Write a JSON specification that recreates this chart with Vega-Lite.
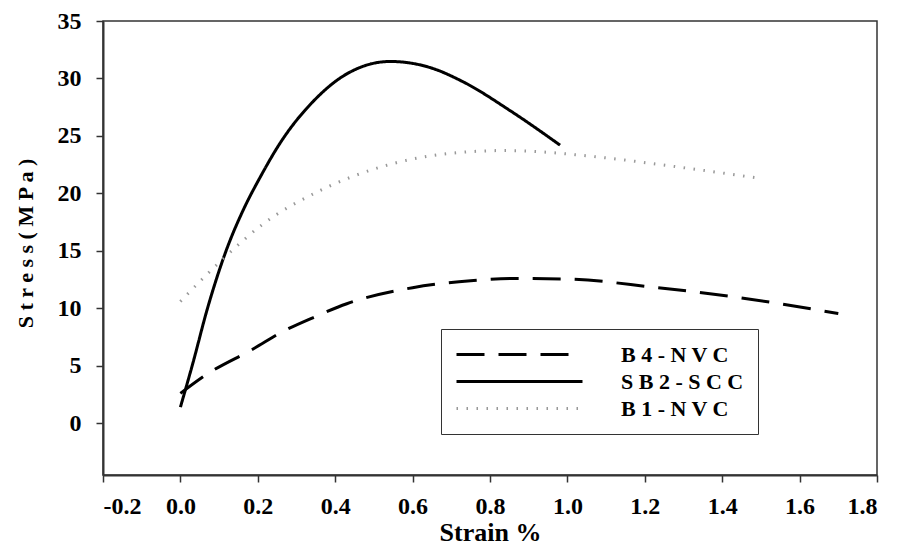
{
  "$schema": "https://vega.github.io/schema/vega-lite/v6.json",
  "width": 774,
  "height": 454,
  "autosize": "none",
  "padding": {"left": 103, "top": 21, "right": 20, "bottom": 81},
  "background": "white",
  "config": {
    "font": "Liberation Serif",
    "view": {"stroke": "#333", "strokeWidth": 1.5},
    "axis": {
      "grid": false,
      "domainColor": "#333",
      "domainWidth": 2,
      "tickColor": "#333",
      "tickWidth": 1.5,
      "tickSize": 7,
      "labelFont": "Liberation Serif",
      "labelFontWeight": "bold",
      "labelFontSize": 24,
      "labelColor": "black",
      "titleFont": "Liberation Serif",
      "titleFontWeight": "bold",
      "titleColor": "black"
    }
  },
  "data": {
    "values": [
      {"series": "B 4 - N V C", "strain": 0.0, "stress": 2.6},
      {"series": "B 4 - N V C", "strain": 0.07, "stress": 4.3},
      {"series": "B 4 - N V C", "strain": 0.19, "stress": 6.5},
      {"series": "B 4 - N V C", "strain": 0.26, "stress": 7.9},
      {"series": "B 4 - N V C", "strain": 0.35, "stress": 9.3},
      {"series": "B 4 - N V C", "strain": 0.43, "stress": 10.4},
      {"series": "B 4 - N V C", "strain": 0.6, "stress": 11.8},
      {"series": "B 4 - N V C", "strain": 0.75, "stress": 12.4},
      {"series": "B 4 - N V C", "strain": 0.86, "stress": 12.6},
      {"series": "B 4 - N V C", "strain": 1.0, "stress": 12.55},
      {"series": "B 4 - N V C", "strain": 1.22, "stress": 11.85},
      {"series": "B 4 - N V C", "strain": 1.44, "stress": 10.95},
      {"series": "B 4 - N V C", "strain": 1.7, "stress": 9.55},
      {"series": "S B 2 - S C C", "strain": 0.0, "stress": 1.4},
      {"series": "S B 2 - S C C", "strain": 0.032, "stress": 5.2},
      {"series": "S B 2 - S C C", "strain": 0.07, "stress": 10.0},
      {"series": "S B 2 - S C C", "strain": 0.118, "stress": 15.0},
      {"series": "S B 2 - S C C", "strain": 0.163, "stress": 18.6},
      {"series": "S B 2 - S C C", "strain": 0.206, "stress": 21.4},
      {"series": "S B 2 - S C C", "strain": 0.26, "stress": 24.5},
      {"series": "S B 2 - S C C", "strain": 0.343, "stress": 28.0},
      {"series": "S B 2 - S C C", "strain": 0.43, "stress": 30.4},
      {"series": "S B 2 - S C C", "strain": 0.542, "stress": 31.48},
      {"series": "S B 2 - S C C", "strain": 0.645, "stress": 30.95},
      {"series": "S B 2 - S C C", "strain": 0.731, "stress": 29.7},
      {"series": "S B 2 - S C C", "strain": 0.852, "stress": 27.2},
      {"series": "S B 2 - S C C", "strain": 0.981, "stress": 24.2},
      {"series": "B 1 - N V C", "strain": 0.0, "stress": 10.6},
      {"series": "B 1 - N V C", "strain": 0.11, "stress": 14.3},
      {"series": "B 1 - N V C", "strain": 0.214, "stress": 17.35},
      {"series": "B 1 - N V C", "strain": 0.361, "stress": 20.25},
      {"series": "B 1 - N V C", "strain": 0.516, "stress": 22.28},
      {"series": "B 1 - N V C", "strain": 0.688, "stress": 23.45},
      {"series": "B 1 - N V C", "strain": 0.839, "stress": 23.73},
      {"series": "B 1 - N V C", "strain": 1.084, "stress": 23.15},
      {"series": "B 1 - N V C", "strain": 1.257, "stress": 22.43},
      {"series": "B 1 - N V C", "strain": 1.49, "stress": 21.35}
    ]
  },
  "mark": {"type": "line", "interpolate": "monotone"},
  "encoding": {
    "x": {
      "field": "strain",
      "type": "quantitative",
      "scale": {"domain": [-0.2, 1.8], "nice": false, "zero": false},
      "axis": {
        "values": [-0.2, 0, 0.2, 0.4, 0.6, 0.8, 1.0, 1.2, 1.4, 1.6, 1.8],
        "labelExpr": "replace(format(datum.value, '.1f'), '\u2212', '-')",
        "labelPadding": 12,
        "title": "Strain %",
        "titleFontSize": 26,
        "titleBaseline": "alphabetic",
        "titleY": 65
      }
    },
    "y": {
      "field": "stress",
      "type": "quantitative",
      "scale": {"domain": [-4.5, 35], "nice": false, "zero": false},
      "axis": {
        "values": [0, 5, 10, 15, 20, 25, 30, 35],
        "labelPadding": 15,
        "title": "S t r e s s ( M P a )",
        "titleFontSize": 22,
        "titleAngle": -90,
        "titleX": -78,
        "titleY": 222,
        "titleAlign": "center",
        "titleBaseline": "middle"
      }
    },
    "color": {
      "field": "series",
      "type": "nominal",
      "scale": {"domain": ["B 4 - N V C", "S B 2 - S C C", "B 1 - N V C"], "range": ["black", "black", "#999999"]},
      "legend": {
        "title": null,
        "orient": "none",
        "legendX": 338,
        "legendY": 308,
        "direction": "vertical",
        "strokeColor": "#333",
        "fillColor": "white",
        "padding": 14,
        "symbolType": "M-6.3,0H6.3",
        "symbolSize": 400,
        "symbolStrokeWidth": 3,
        "symbolOffset": 53,
        "labelFont": "Liberation Serif",
        "labelFontWeight": "bold",
        "labelFontSize": 22,
        "labelColor": "black",
        "labelOffset": 90,
        "rowPadding": 4
      }
    },
    "strokeDash": {
      "field": "series",
      "type": "nominal",
      "scale": {"domain": ["B 4 - N V C", "S B 2 - S C C", "B 1 - N V C"], "range": [[28, 14], [1, 0], [1.5, 8.5]]}
    },
    "strokeWidth": {
      "field": "series",
      "type": "nominal",
      "scale": {"domain": ["B 4 - N V C", "S B 2 - S C C", "B 1 - N V C"], "range": [3, 3, 1]}
    }
  }
}
